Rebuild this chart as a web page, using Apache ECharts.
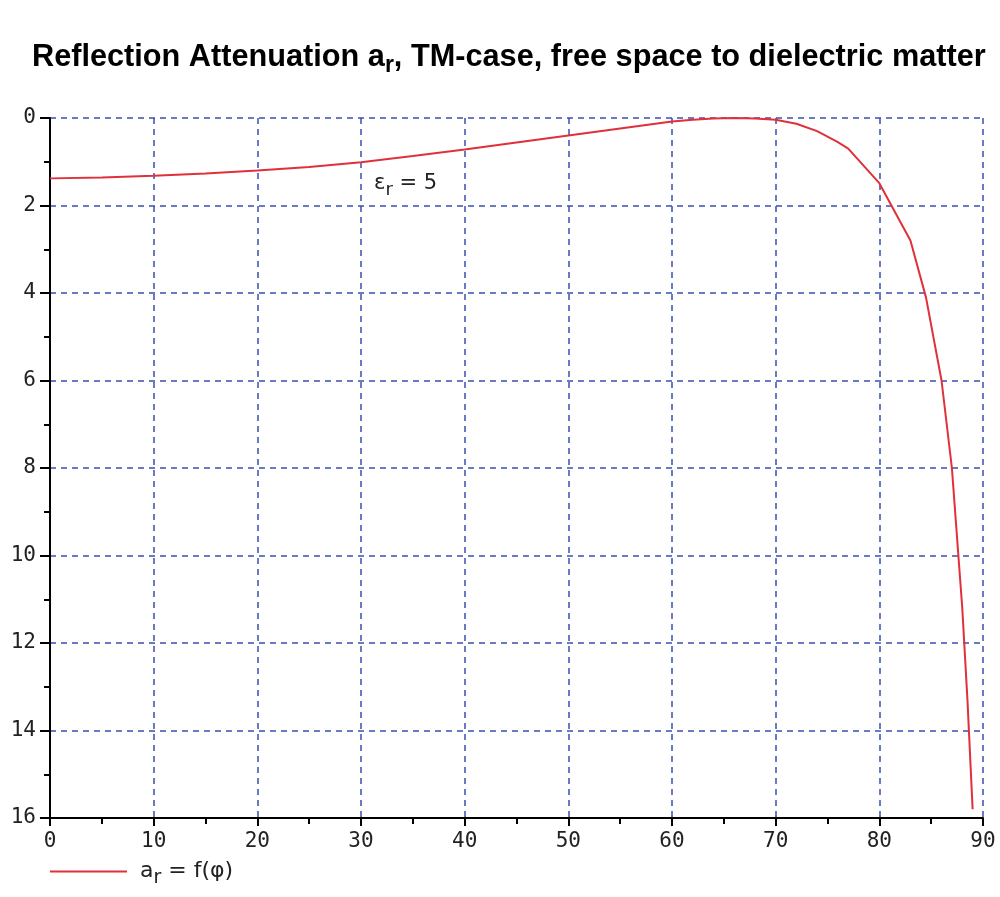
<!DOCTYPE html>
<html>
<head>
<meta charset="utf-8">
<script src="https://cdn.jsdelivr.net/npm/echarts@6/dist/echarts.min.js"></script>
<style>
  html, body { margin: 0; padding: 0; background: #fff; }
  #main { width: 1000px; height: 897px; }
</style>
</head>
<body>
<div id="main"></div>
<script>
// 入射角 (度)
const angles = [0, 5, 10, 15, 20, 25, 30, 35, 40, 45, 50, 55, 60, 62, 64, 66, 68, 70, 72, 74, 76, 77, 80, 83, 84.5, 86, 87, 88, 88.5, 89];
// 反射衰减 a_r
const attenuation = [1.38, 1.36, 1.32, 1.27, 1.20, 1.12, 1.01, 0.87, 0.72, 0.56, 0.40, 0.24, 0.08, 0.04, 0.01, 0, 0.01, 0.04, 0.13, 0.30, 0.55, 0.70, 1.49, 2.8, 4.1, 6.0, 8.0, 11.2, 13.3, 15.8];
// 坐标轴刻度
const xTicks = [0, 10, 20, 30, 40, 50, 60, 70, 80, 90];
const yTicks = [0, 2, 4, 6, 8, 10, 12, 14, 16];

const seriesData = angles.map((a, i) => [a, attenuation[i]]);

const tickFont = {
    fontFamily: 'DejaVu Sans Mono',
    fontSize: 21,
    color: '#222'
};
const gridLine = {
    show: true,
    lineStyle: { color: '#3a4fb0', type: [6, 5], width: 1.5 }
};

const chart = echarts.init(document.getElementById('main'));
chart.setOption({
    backgroundColor: '#fff',
    animation: false,
    title: {
        text: '{t|Reflection Attenuation a}{s|r}{t|, TM-case, free space to dielectric matter}',
        left: 27,
        top: 33,
        textStyle: {
            rich: {
                t: { fontFamily: 'Liberation Sans', fontWeight: 'bold', fontSize: 30.7, color: '#000' },
                s: { fontFamily: 'Liberation Sans', fontWeight: 'bold', fontSize: 23, color: '#000', padding: [16, 0, 0, 0] }
            }
        }
    },
    grid: { left: 50, right: 17, top: 118, bottom: 79, containLabel: false },
    xAxis: {
        type: 'value',
        min: 0,
        max: 90,
        interval: 10,
        axisLine: { onZero: false, lineStyle: { color: '#000', width: 2 } },
        axisTick: { length: 8, lineStyle: { color: '#000', width: 2 } },
        minorTick: { show: true, splitNumber: 2, length: 6, lineStyle: { color: '#000', width: 2 } },
        axisLabel: Object.assign({ margin: 13 }, tickFont, {
            formatter: v => xTicks.includes(v) ? String(v) : ''
        }),
        splitLine: gridLine
    },
    yAxis: {
        type: 'value',
        inverse: true,
        min: 0,
        max: 16,
        interval: 2,
        axisLine: { show: true, onZero: false, lineStyle: { color: '#000', width: 2 } },
        axisTick: { show: true, length: 10, lineStyle: { color: '#000', width: 2 } },
        minorTick: { show: true, splitNumber: 2, length: 6, lineStyle: { color: '#000', width: 2 } },
        axisLabel: Object.assign({ margin: 14, padding: [3, 0, 0, 0] }, tickFont, {
            formatter: v => yTicks.includes(v) ? String(v) : ''
        }),
        splitLine: gridLine
    },
    legend: {
        left: 45,
        bottom: 4,
        itemWidth: 77,
        itemHeight: 2,
        icon: 'rect',
        data: ['ar'],
        formatter: () => '{a0|a}{r|r}{a| = f(φ)}',
        textStyle: {
            rich: {
                a0: { fontFamily: 'DejaVu Sans', fontSize: 22, color: '#222', padding: [0, 0, 0, 8] },
                a: { fontFamily: 'DejaVu Sans', fontSize: 22, color: '#222' },
                r: { fontFamily: 'DejaVu Sans', fontSize: 19, color: '#222', padding: [14, 0, 0, 0] }
            }
        }
    },
    series: [{
        name: 'ar',
        type: 'line',
        data: seriesData,
        showSymbol: false,
        smooth: false,
        lineStyle: { color: '#e0303a', width: 2 },
        itemStyle: { color: '#e0303a' },
        markPoint: {
            symbol: 'circle',
            symbolSize: 0,
            data: [{ coord: [34.3, 1.5] }],
            label: {
                show: true,
                position: 'inside',
                formatter: () => '{e|ε}{r|r}{e| = 5}',
                rich: {
                    e: { fontFamily: 'DejaVu Sans', fontSize: 21, color: '#222' },
                    r: { fontFamily: 'DejaVu Sans', fontSize: 18, color: '#222', padding: [14, 0, 0, 0] }
                }
            }
        }
    }]
});
</script>
</body>
</html>
